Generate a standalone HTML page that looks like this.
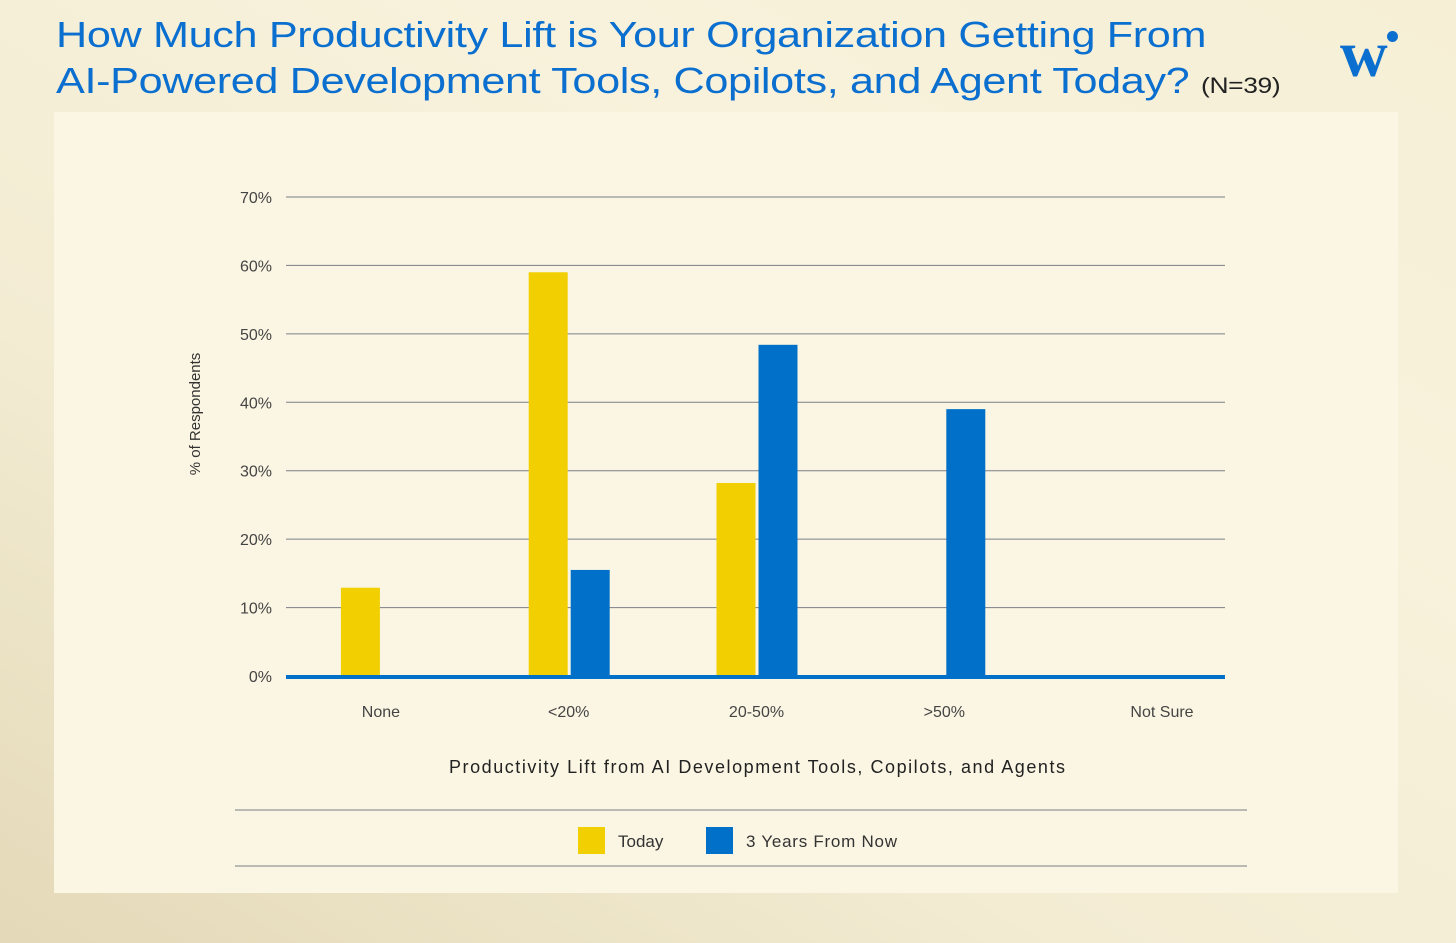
<!DOCTYPE html>
<html><head><meta charset="utf-8"><style>
body{margin:0;width:1456px;height:943px;overflow:hidden;background:linear-gradient(30deg,#e4d9b8 0%,#f3ecd3 35%,#f8f2dc 70%,#f6efd6 100%);font-family:"Liberation Sans",sans-serif;position:relative}
.t{position:absolute;left:56px;color:#0b6fcf;font-size:36px;letter-spacing:-0.3px;white-space:nowrap;transform:scaleX(1.2);transform-origin:0 0}
#panel{position:absolute;left:54px;top:112px;width:1344px;height:781px;background:#fbf6e3}
</style></head><body>
<div class="t" style="top:14px">How Much Productivity Lift is Your Organization Getting From</div>
<div class="t" style="top:60px">AI-Powered Development Tools, Copilots, and Agent Today? <span style="font-size:22px;color:#222">(N=39)</span></div>
<div style="position:absolute;left:1340px;top:22px;font-family:'Liberation Serif',serif;font-weight:bold;font-size:66px;line-height:1;color:#0b6fcf">w</div>
<div style="position:absolute;left:1387px;top:31px;width:11px;height:11px;border-radius:50%;background:#0b6fcf"></div>
<div id="panel"></div>
<svg id="c" width="1456" height="943" style="position:absolute;left:0;top:0"></svg>
<script>
const categories=["None","<20%","20-50%",">50%","Not Sure"];
const today=[12.9,59.0,28.2,0,0];
const future=[0,15.5,48.4,39.0,0];
const ticks=[0,10,20,30,40,50,60,70];
const NS="http://www.w3.org/2000/svg";
const svg=document.getElementById('c');
const x0=286,x1=1225,y0=676,yTop=197;
const y=v=>y0-(v/70)*(y0-yTop);
const bw=(x1-x0)/categories.length;
const cx=i=>x0+bw*(i+0.5)+1;
function el(t,a){const e=document.createElementNS(NS,t);for(const k in a)e.setAttribute(k,a[k]);svg.appendChild(e);return e;}
ticks.forEach(v=>{
 if(v>0){const l=el('line',{x1:x0,x2:x1,y1:y(v),y2:y(v),stroke:'#7a7f87','stroke-width':1});
 
 }
 const t=el('text',{x:272,y:y(v)+6,'text-anchor':'end','font-size':16,fill:'#444','font-family':'Liberation Sans'});
 t.textContent=v+'%';
 
 
});
categories.forEach((c,i)=>{
 if(today[i]>0){const r=el('rect',{x:cx(i)-40,y:y(today[i]),width:39,height:y0-y(today[i]),fill:'#f2cf00'});
 
 }
 if(future[i]>0){const r=el('rect',{x:cx(i)+2,y:y(future[i]),width:39,height:y0-y(future[i]),fill:'#0070c9'});
 
 }
 const t=el('text',{x:i==4?1162:cx(i),y:717,'text-anchor':'middle','font-size':16,fill:'#444','font-family':'Liberation Sans'});
 t.textContent=c;
 
 
});
const base=el('rect',{x:x0,y:y0-1,width:x1-x0,height:4,fill:'#0070c9'});


const yt=el('text',{x:0,y:0,transform:'translate(200,414) rotate(-90)','text-anchor':'middle','font-size':15,fill:'#333','font-family':'Liberation Sans'});
yt.textContent='% of Respondents';


const xt=el('text',{x:757,y:773,'text-anchor':'middle','font-size':18,fill:'#222','font-family':'Liberation Sans','textLength':616});
xt.textContent='Productivity Lift from AI Development Tools, Copilots, and Agents';


[810,866].forEach(yy=>{const l=el('line',{x1:235,x2:1247,y1:yy,y2:yy,stroke:'#7a7f87','stroke-width':1});
 
 });
const s1=el('rect',{x:578,y:827,width:27,height:27,fill:'#f2cf00'});


const l1=el('text',{x:618,y:847,'font-size':17,fill:'#333','font-family':'Liberation Sans'});
l1.textContent='Today';


const s2=el('rect',{x:706,y:827,width:27,height:27,fill:'#0070c9'});


const l2=el('text',{x:746,y:847,'font-size':17,fill:'#333','font-family':'Liberation Sans','textLength':151});
l2.textContent='3 Years From Now';


</script>
</body></html>
